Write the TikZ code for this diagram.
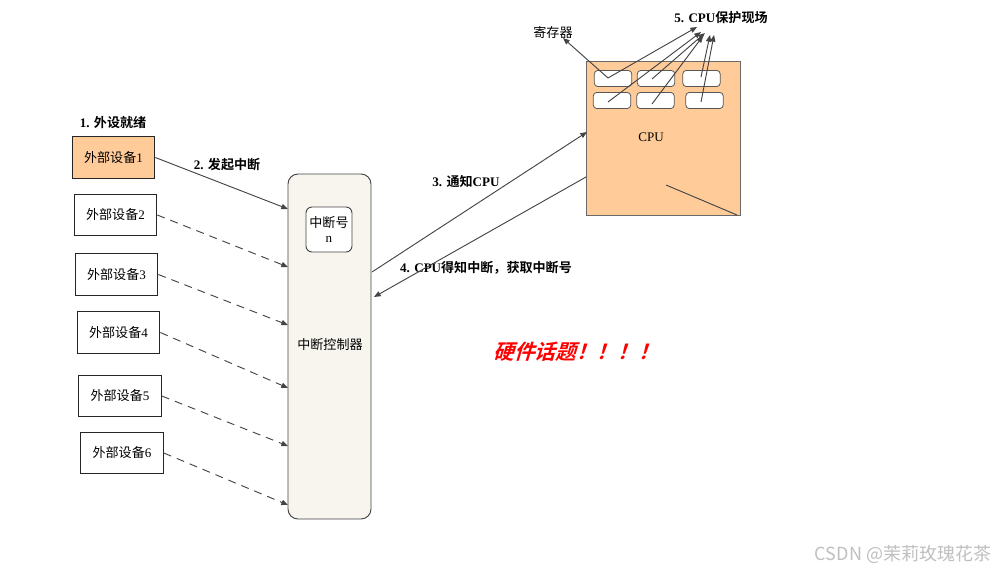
\documentclass[tikz,border=0pt]{standalone}
\usepackage{fontspec}
\setmainfont{Liberation Serif}
\newfontfamily\cjk{Noto Sans CJK SC}[BoldFont={Noto Sans CJK SC Bold}]
\newfontfamily\cjkhot{Noto Sans CJK SC Bold}[FakeSlant=0.3]
\usetikzlibrary{arrows.meta}
\definecolor{peach}{HTML}{FFCC99}
\definecolor{ctrlfill}{HTML}{F7F5EE}
\definecolor{edge}{HTML}{444444}
\tikzset{
  dev/.style={draw=black!85, line width=0.7pt, minimum width=62pt, minimum height=31pt, inner sep=0pt, font=\fontsize{9.8}{11}\selectfont},
  reg/.style={draw=edge!90, fill=white, rounded corners=2.5pt, line width=0.6pt, minimum width=28pt, minimum height=12pt, inner sep=0pt},
  lbl/.style={font=\fontsize{9.8}{11}\selectfont\bfseries, inner sep=0pt},
  conn/.style={draw=edge, line width=0.7pt, -{Triangle[length=5pt,width=4pt]}},
  dconn/.style={conn, dash pattern=on 6pt off 4.5pt},
}
\begin{document}
\begin{tikzpicture}[x=0.75pt,y=-0.75pt]
\useasboundingbox (0,0) rectangle (999,573);
% devices
\node[dev, fill=peach] (d1) at (113.5,157.5) {{\cjk 外部设备}1};
\node[dev] (d2) at (115.5,215) {{\cjk 外部设备}2};
\node[dev] (d3) at (116.5,274.5) {{\cjk 外部设备}3};
\node[dev] (d4) at (118.5,332.5) {{\cjk 外部设备}4};
\node[dev] (d5) at (120,396) {{\cjk 外部设备}5};
\node[dev] (d6) at (122,453) {{\cjk 外部设备}6};
% controller
\node[draw=edge, fill=ctrlfill, rounded corners=7.5pt, line width=0.7pt, minimum width=62.25pt, minimum height=258.75pt, inner sep=0pt] (ctrl) at (329.5,346.5) {};
\node[font=\fontsize{9.8}{11}\selectfont\cjk, inner sep=0pt] (ctrltxt) at (330,345) {中断控制器};
\node[draw=edge, fill=white, rounded corners=4.5pt, line width=0.7pt, minimum width=34.5pt, minimum height=33.75pt, inner sep=0pt, align=center, font=\fontsize{9.8}{12}\selectfont] (irq) at (329,229.5) {{\cjk 中断号}\\[-1pt]n};
% CPU
\node[draw=edge!80, fill=peach, line width=0.7pt, minimum width=115.5pt, minimum height=115.5pt, inner sep=0pt] (cpu) at (663,138) {};
\node[font=\fontsize{9.8}{11}\selectfont, inner sep=0pt] (cputxt) at (651,137) {CPU};
\node[reg] (r11) at (613,78.5) {};
\node[reg] (r12) at (656,78.5) {};
\node[reg] (r13) at (701.5,78.5) {};
\node[reg] (r21) at (612,100.5) {};
\node[reg] (r22) at (655.5,100.5) {};
\node[reg] (r23) at (704.5,100.5) {};
\coordinate (l11) at (608,78);
\coordinate (l12) at (652,79);
\coordinate (l13) at (701,77);
\coordinate (l21) at (608,102);
\coordinate (l22) at (652,104);
\coordinate (l23) at (701,102);
\draw[draw=edge, line width=0.7pt] (666,185) coordinate (ln1) -- (737,215) coordinate (ln2);
% labels
\node[lbl] (t1) at (113,123) {1. {\cjk\bfseries 外设就绪}};
\node[lbl] (t2) at (227,165) {2. {\cjk\bfseries 发起中断}};
\node[lbl] (t3) at (466,182) {3. {\cjk\bfseries 通知}CPU};
\node[lbl] (t4) at (486,268) {4. CPU{\cjk\bfseries 得知中断，获取中断号}};
\node[lbl] (t5) at (721,18) {5. CPU{\cjk\bfseries 保护现场}};
\node[font=\fontsize{9.8}{11}\selectfont\cjk, inner sep=0pt] (treg) at (553,33) {寄存器};
\node[font=\fontsize{15.5}{17}\selectfont\cjkhot, text=red, inner sep=0pt] (hot) at (576,352) {硬件话题！！！！};
\node[font=\fontsize{13.5}{15}\selectfont\cjk, text=black!25, inner sep=0pt] (wm) at (903,554) {CSDN @茉莉玫瑰花茶};
% device connectors
\coordinate (c1) at (288,209);
\coordinate (c2) at (288,267);
\coordinate (c3) at (288,325);
\coordinate (c4) at (288,388);
\coordinate (c5) at (288,446);
\coordinate (c6) at (288,505);
\draw[conn] (d1.east) -- (c1);
\draw[dconn] (d2.east) -- (c2);
\draw[dconn] (d3.east) -- (c3);
\draw[dconn] (d4.east) -- (c4);
\draw[dconn] (d5.east) -- (c5);
\draw[dconn] (d6.east) -- (c6);
% controller <-> CPU
\coordinate (s3) at (372,272);
\coordinate (e3) at (587,132);
\coordinate (s4) at (586,177);
\coordinate (e4) at (374,297);
\draw[conn] (s3) -- (e3);
\draw[conn] (s4) -- (e4);
% register arrows
\coordinate (a0) at (563,38);
\coordinate (a1) at (697,27);
\coordinate (a2) at (701,32);
\coordinate (a3) at (705,33);
\coordinate (a4) at (703,36);
\coordinate (a5) at (710,35);
\coordinate (a6) at (714,35);
\draw[conn] (l11) -- (a0);
\draw[conn] (l11) -- (a1);
\draw[conn] (l21) -- (a2);
\draw[conn] (l12) -- (a3);
\draw[conn] (l22) -- (a4);
\draw[conn] (l13) -- (a5);
\draw[conn] (l23) -- (a6);
\end{tikzpicture}
\end{document}
